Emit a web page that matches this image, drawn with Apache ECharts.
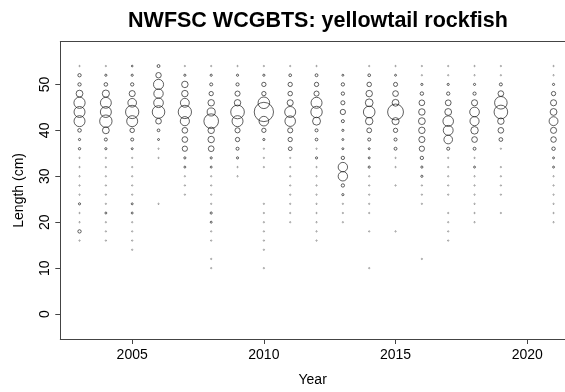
<!DOCTYPE html>
<html><head><meta charset="utf-8">
<script src="https://cdn.jsdelivr.net/npm/echarts@6/dist/echarts.min.js"></script>
<style>html,body{margin:0;padding:0;background:#fff}#c{width:565px;height:392px}</style>
</head><body><div id="c"></div>
<script>
// Years (columns) and length bins (rows, descending 54..10 cm)
const years = [2003,2004,2005,2006,2007,2008,2009,2010,2011,2012,2013,2014,2015,2016,2017,2018,2019,2021];
const lengths = [54,52,50,48,46,44,42,40,38,36,34,32,30,28,26,24,22,20,18,16,14,12,10];
const xTicks = [2005,2010,2015,2020];
const yTicks = [0,10,20,30,40,50];

// Proportion at length for each year (same order as `lengths`)
const p2003 = [.002,.012,.012,.05,.135,.13,.13,.014,.005,.006,.002,.002,.002,.002,.002,.005,.002,.002,.012,.002,0,0,0];
const p2004 = [.002,.005,.014,.055,.128,.13,.165,.05,.01,.005,.002,.002,.002,.002,.002,.002,.004,.002,.002,.002,0,0,0];
const p2005 = [.003,.005,.012,.04,.08,.19,.13,.022,.01,.004,.002,.002,.002,.002,.002,.004,.004,.002,.002,.002,.002,0,0];
const p2006 = [.009,.032,.11,.095,.1,.17,.035,.008,.004,.002,.002,0,0,0,0,.002,0,0,0,0,0,0,0];
const p2007 = [.002,.005,.045,.045,.085,.19,.09,.035,.035,.03,.005,.004,.002,.002,.002,0,0,0,0,0,0,0,0];
const p2008 = [.002,.005,.01,.02,.045,.07,.23,.045,.045,.035,.005,.004,.002,.002,.002,.002,.005,.004,.002,.002,0,.002,.002];
const p2009 = [.002,.005,.011,.028,.045,.2,.13,.028,.02,.01,.005,.002,.002,0,0,0,0,0,0,0,0,0,0];
const p2010 = [.002,.005,.02,.02,.145,.4,.1,.02,.005,.002,.002,.002,0,0,0,.002,.002,.002,.002,.002,.002,0,.002];
const p2011 = [.002,.008,.02,.022,.04,.13,.12,.028,.02,.015,.002,.002,.002,.002,.002,.002,.002,.002,0,0,0,0,0];
const p2012 = [.002,.009,.02,.028,.13,.14,.068,.01,.008,.002,.005,.002,.002,.002,.002,.002,.002,.002,.002,.002,0,0,0];
const p2013 = [0,.004,.012,.012,.018,.03,.01,.005,.004,.004,.012,.095,.095,.012,.005,.002,.002,.002,0,0,0,0,0];
const p2014 = [.002,.008,.022,.045,.065,.145,.06,.025,.01,.004,.004,.005,.002,.002,.002,.002,.002,0,.002,0,0,0,.002];
const p2015 = [.002,.004,.018,.035,.05,.27,.055,.02,.01,.009,.002,.002,0,.002,0,0,0,0,.002,0,0,0,0];
const p2016 = [.002,.002,.005,.013,.035,.045,.05,.045,.04,.03,.012,.005,.005,.002,.002,.002,0,0,0,0,0,.002,0];
const p2017 = [.002,.002,.005,.012,.036,.05,.12,.105,.08,.01,.002,.002,.002,.002,.002,0,.002,.002,.002,.002,0,0,0];
const p2018 = [.002,.002,.005,.011,.04,.1,.09,.06,.035,.009,.002,.004,.002,.002,.002,.002,.002,.002,0,0,0,0,0];
const p2019 = [.002,.002,.01,.035,.17,.2,.045,.035,.015,.002,0,.002,.002,.002,.002,0,.002,0,0,0,0,0,0];
const p2021 = [.002,.002,.005,.02,.04,.05,.085,.04,.033,.013,.004,.004,.002,.002,.002,.002,.002,.002,0,0,0,0,0];

const props = [p2003,p2004,p2005,p2006,p2007,p2008,p2009,p2010,p2011,p2012,p2013,p2014,p2015,p2016,p2017,p2018,p2019,p2021];

const data = [];
years.forEach((yr, i) => {
  props[i].forEach((v, j) => {
    if (v > 0) {
      const item = { value: [yr, lengths[j], v] };
      if (v < 0.003) item.itemStyle = { opacity: 0.4 };
      data.push(item);
    }
  });
});

const FONT = 'Liberation Sans, Arial, sans-serif';
const chart = echarts.init(document.getElementById('c'), null, { renderer: 'canvas' });
chart.setOption({
  animation: false,
  backgroundColor: '#fff',
  title: {
    text: 'NWFSC WCGBTS: yellowtail rockfish',
    left: 313, top: 5, textAlign: 'center',
    textStyle: { fontFamily: FONT, fontWeight: 'bold', fontSize: 21.5, color: '#000' }
  },
  grid: { left: 60.3, top: 41.7, right: 0, bottom: 48.7, containLabel: false },
  xAxis: [{
    type: 'value', min: 2002.27, max: 2021.435,
    name: 'Year', nameLocation: 'middle', nameGap: 34,
    nameTextStyle: { fontFamily: FONT, fontSize: 14, color: '#000' },
    axisLine: { show: true, onZero: false, lineStyle: { color: '#444', width: 1 } },
    axisTick: { show: true, length: 5, customValues: xTicks, lineStyle: { color: '#444' } },
    axisLabel: { customValues: xTicks, margin: 9, fontFamily: FONT, fontSize: 14, color: '#000', formatter: v => String(v) },
    splitLine: { show: false }
  }, {
    type: 'value', position: 'top', min: 2002.27, max: 2021.435,
    axisLine: { show: true, onZero: false, lineStyle: { color: '#444', width: 1 } },
    axisTick: { show: false }, axisLabel: { show: false }, splitLine: { show: false }
  }],
  yAxis: {
    type: 'value', min: -5.43, max: 59.3,
    name: 'Length (cm)', nameLocation: 'middle', nameGap: 34, nameRotate: 90,
    nameTextStyle: { fontFamily: FONT, fontSize: 14, color: '#000' },
    axisLine: { show: true, onZero: false, lineStyle: { color: '#444', width: 1 } },
    axisTick: { show: true, length: 5, customValues: yTicks, lineStyle: { color: '#444' } },
    axisLabel: { customValues: yTicks, rotate: 90, margin: 8, fontFamily: FONT, fontSize: 14, color: '#000' },
    splitLine: { show: false }
  },
  series: [{
    type: 'scatter',
    symbol: 'circle',
    symbolSize: v => 30.5 * Math.sqrt(v[2]),
    itemStyle: { color: 'rgba(0,0,0,0)', borderColor: '#222', borderWidth: 0.9 },
    emphasis: { disabled: true },
    data: data
  }]
});
</script></body></html>
